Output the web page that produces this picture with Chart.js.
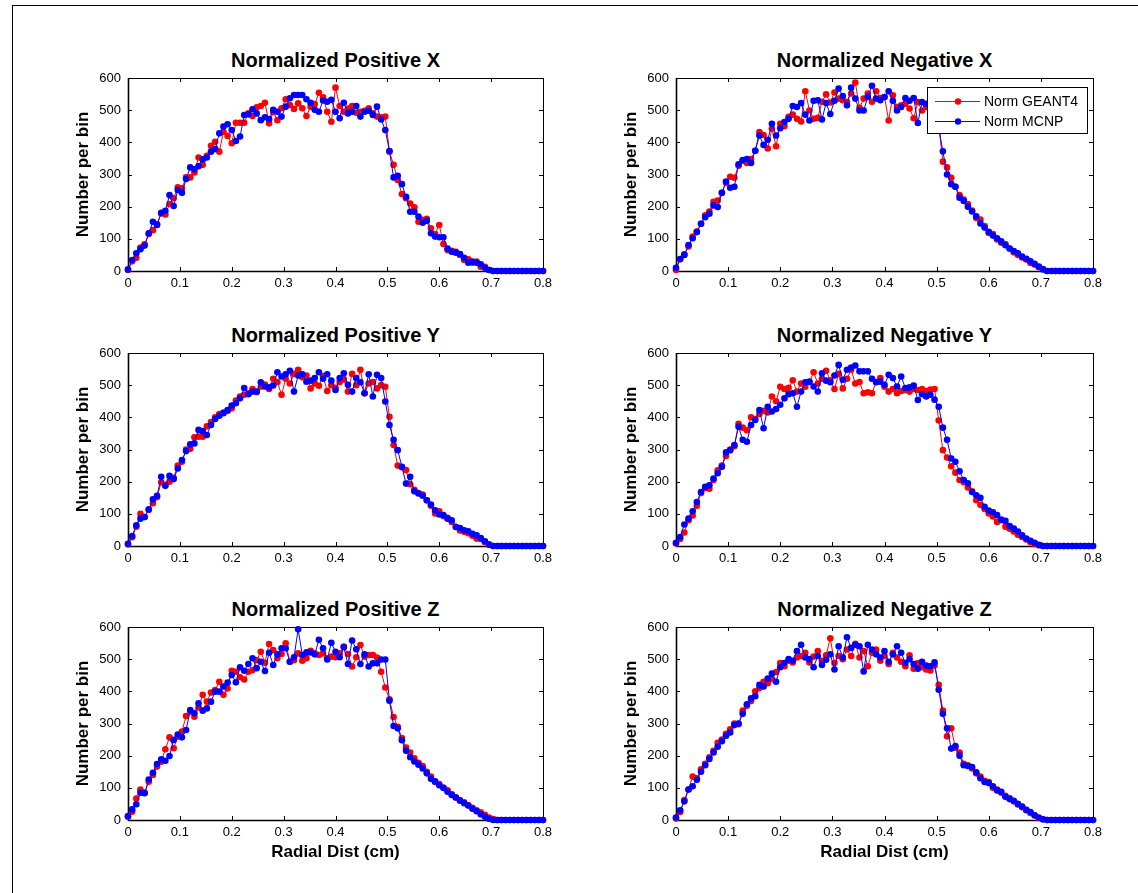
<!DOCTYPE html>
<html>
<head>
<meta charset="utf-8">
<title>Normalized radial distributions</title>
<script src="https://cdn.jsdelivr.net/npm/chart.js@4.4.1/dist/chart.umd.min.js"></script>
<style>
  html, body { margin: 0; padding: 0; background: #fff; }
  body { width: 1138px; height: 893px; position: relative; overflow: hidden; font-family: "Liberation Sans", Arial, sans-serif; }
  #frame { position: absolute; left: 12px; top: 5px; width: 1200px; height: 950px; border-left: 1px solid #000; border-top: 1px solid #000; }
  canvas { position: absolute; }
  .ttl { position: absolute; font-weight: bold; font-size: 20px; line-height: 20px; text-align: center; white-space: nowrap; color: #000; }
</style>
</head>
<body>
<div id="frame"></div>
<script>
// bin grid (cm) and tick labels
const BIN_WIDTH = 0.008;
const xTicks = [0, 0.1, 0.2, 0.3, 0.4, 0.5, 0.6, 0.7, 0.8];
const yTicks = [0, 100, 200, 300, 400, 500, 600];

// Positive X
const geantPosX = [
  3, 30, 41, 73, 83, 115, 127, 146, 179, 176,
  208, 226, 260, 257, 291, 291, 306, 353, 330, 358,
  389, 402, 371, 433, 420, 397, 461, 461, 461, 490,
  482, 509, 513, 523, 459, 494, 469, 506, 534, 516,
  504, 521, 506, 482, 511, 519, 554, 540, 495, 464,
  570, 513, 495, 505, 513, 492, 495, 498, 506, 490,
  480, 478, 480, 371, 330, 283, 239, 226, 210, 198,
  153, 159, 162, 133, 115, 143, 84, 65, 63, 60,
  50, 34, 36, 26, 29, 13, 13, 3, 0, 0,
  0, 0, 0, 0, 0, 0, 0, 0, 0, 0, 0
];
const mcnpPosX = [
  5, 34, 55, 68, 79, 117, 153, 143, 181, 187,
  236, 202, 252, 243, 286, 322, 316, 326, 347, 353,
  371, 379, 428, 449, 456, 438, 404, 418, 485, 487,
  503, 490, 469, 478, 472, 501, 495, 480, 511, 537,
  547, 547, 547, 534, 523, 501, 495, 530, 526, 532,
  495, 475, 523, 490, 495, 513, 480, 495, 498, 485,
  511, 471, 438, 373, 291, 296, 270, 231, 184, 184,
  169, 150, 156, 117, 107, 105, 105, 70, 60, 57,
  53, 41, 26, 29, 26, 21, 10, 3, 0, 0,
  0, 0, 0, 0, 0, 0, 0, 0, 0, 0, 0
];

// Negative X
const geantNegX = [
  3, 37, 52, 76, 107, 123, 147, 173, 185, 215,
  219, 243, 274, 293, 290, 327, 343, 336, 348, 374,
  432, 423, 381, 442, 388, 458, 450, 479, 486, 473,
  465, 559, 499, 473, 476, 526, 549, 524, 555, 536,
  531, 526, 552, 586, 507, 536, 552, 526, 559, 538,
  541, 468, 546, 510, 515, 520, 505, 475, 525, 499,
  510, 498, 505, 455, 340, 322, 290, 262, 236, 222,
  208, 188, 165, 160, 140, 118, 115, 98, 88, 84,
  70, 58, 50, 42, 36, 25, 20, 12, 6, 0,
  0, 0, 0, 0, 0, 0, 0, 0, 0, 0, 0
];
const mcnpNegX = [
  10, 37, 50, 81, 102, 121, 147, 167, 178, 204,
  199, 243, 278, 259, 262, 332, 345, 348, 336, 374,
  421, 392, 408, 458, 421, 444, 463, 473, 513, 510,
  522, 486, 468, 529, 531, 471, 522, 488, 529, 567,
  544, 515, 570, 536, 499, 499, 541, 576, 536, 531,
  541, 559, 529, 499, 510, 538, 529, 538, 460, 525,
  520, 505, 480, 445, 372, 300, 270, 262, 228, 218,
  200, 185, 170, 148, 135, 122, 110, 102, 92, 80,
  70, 62, 55, 45, 38, 30, 22, 14, 5, 0,
  0, 0, 0, 0, 0, 0, 0, 0, 0, 0, 0
];

// Positive Y
const geantPosY = [
  5, 27, 60, 100, 90, 112, 133, 152, 198, 190,
  200, 212, 250, 262, 300, 302, 338, 340, 340, 372,
  385, 400, 410, 415, 420, 428, 452, 465, 470, 475,
  488, 478, 495, 502, 488, 520, 510, 470, 520, 505,
  535, 548, 525, 530, 490, 505, 498, 528, 482, 500,
  492, 510, 518, 480, 535, 500, 548, 475, 505, 510,
  490, 500, 495, 402, 314, 250, 245, 236, 192, 175,
  165, 160, 142, 125, 101, 108, 93, 88, 75, 60,
  48, 44, 40, 32, 23, 22, 12, 5, 0, 0,
  0, 0, 0, 0, 0, 0, 0, 0, 0, 0, 0
];
const mcnpPosY = [
  7, 31, 64, 85, 90, 114, 145, 156, 215, 187,
  218, 208, 241, 267, 295, 316, 319, 361, 357, 345,
  376, 395, 405, 413, 423, 437, 444, 459, 491, 472,
  480, 480, 509, 496, 493, 499, 540, 527, 534, 545,
  480, 530, 534, 511, 514, 522, 540, 520, 534, 514,
  485, 522, 537, 501, 480, 522, 509, 475, 534, 465,
  532, 522, 449, 376, 330, 298, 246, 194, 215, 170,
  163, 156, 142, 129, 111, 98, 96, 85, 80, 59,
  56, 49, 46, 38, 33, 25, 15, 4, 0, 0,
  0, 0, 0, 0, 0, 0, 0, 0, 0, 0, 0
];

// Negative Y
const geantNegY = [
  8, 22, 42, 80, 95, 125, 165, 180, 178, 205,
  235, 250, 280, 300, 310, 380, 368, 360, 400, 395,
  410, 420, 415, 465, 450, 495, 488, 492, 515, 480,
  505, 495, 510, 540, 505, 520, 545, 515, 488, 535,
  490, 520, 548, 505, 510, 475, 478, 475, 510, 522,
  495, 480, 488, 475, 482, 485, 480, 488, 485, 488,
  482, 486, 488, 390, 298, 275, 248, 228, 205, 198,
  182, 170, 142, 128, 115, 101, 92, 75, 80, 60,
  54, 45, 35, 28, 20, 12, 6, 2, 0, 0,
  0, 0, 0, 0, 0, 0, 0, 0, 0, 0, 0
];
const mcnpNegY = [
  10, 28, 67, 85, 108, 137, 168, 184, 189, 210,
  226, 246, 291, 298, 314, 371, 330, 324, 376, 392,
  423, 366, 433, 418, 426, 439, 459, 472, 475, 433,
  480, 509, 511, 496, 480, 537, 514, 509, 530, 563,
  517, 548, 555, 561, 543, 543, 543, 520, 509, 511,
  501, 532, 522, 496, 527, 491, 493, 499, 454, 472,
  465, 470, 455, 433, 368, 330, 272, 262, 232, 205,
  195, 168, 158, 150, 122, 110, 105, 96, 82, 78,
  62, 54, 45, 33, 23, 16, 10, 4, 0, 0,
  0, 0, 0, 0, 0, 0, 0, 0, 0, 0, 0
];

// Positive Z
const geantPosZ = [
  10, 26, 67, 95, 85, 119, 140, 166, 181, 220,
  257, 223, 259, 275, 323, 337, 321, 350, 389, 368,
  396, 404, 430, 389, 409, 464, 461, 444, 437, 461,
  466, 497, 523, 489, 547, 528, 503, 516, 549, 492,
  497, 518, 495, 503, 526, 518, 513, 518, 503, 508,
  506, 518, 539, 516, 477, 506, 544, 508, 513, 513,
  505, 461, 412, 375, 320, 290, 255, 225, 210, 192,
  178, 168, 150, 135, 118, 112, 100, 92, 80, 70,
  62, 55, 46, 38, 30, 24, 16, 8, 3, 0,
  0, 0, 0, 0, 0, 0, 0, 0, 0, 0, 0
];
const mcnpPosZ = [
  12, 33, 49, 85, 83, 126, 147, 174, 189, 184,
  199, 249, 266, 257, 280, 342, 332, 363, 340, 347,
  368, 399, 399, 415, 427, 451, 428, 475, 464, 485,
  503, 472, 492, 463, 520, 482, 515, 534, 534, 492,
  506, 593, 513, 521, 521, 515, 560, 534, 499, 551,
  523, 506, 537, 485, 558, 531, 485, 515, 477, 487,
  487, 499, 499, 371, 292, 285, 248, 215, 195, 182,
  172, 160, 145, 128, 120, 108, 100, 88, 78, 70,
  60, 52, 45, 35, 27, 18, 10, 4, 0, 0,
  0, 0, 0, 0, 0, 0, 0, 0, 0, 0, 0
];

// Negative Z
const geantNegZ = [
  5, 25, 62, 95, 135, 130, 158, 175, 195, 215,
  240, 250, 268, 282, 300, 298, 340, 355, 370, 400,
  410, 430, 425, 438, 460, 488, 478, 495, 490, 505,
  510, 520, 490, 508, 525, 495, 512, 565, 488, 510,
  500, 530, 510, 548, 505, 525, 478, 520, 530, 495,
  510, 485, 520, 505, 492, 478, 512, 470, 488, 475,
  468, 465, 480, 420, 340, 260, 285, 225, 210, 175,
  170, 160, 145, 135, 122, 118, 100, 95, 85, 75,
  68, 58, 48, 40, 30, 22, 14, 6, 2, 0,
  0, 0, 0, 0, 0, 0, 0, 0, 0, 0, 0
];
const mcnpNegZ = [
  8, 30, 58, 95, 105, 125, 150, 170, 190, 210,
  228, 245, 262, 272, 295, 300, 330, 360, 378, 385,
  420, 415, 440, 455, 430, 475, 488, 500, 495, 525,
  545, 505, 500, 475, 510, 482, 498, 515, 468, 540,
  505, 568, 535, 545, 540, 462, 545, 530, 515, 505,
  525, 492, 515, 540, 520, 488, 500, 485, 470, 492,
  480, 478, 490, 405, 330, 285, 222, 230, 200, 170,
  168, 165, 148, 130, 118, 115, 105, 92, 88, 72,
  65, 60, 50, 42, 32, 25, 15, 8, 2, 0,
  0, 0, 0, 0, 0, 0, 0, 0, 0, 0, 0
];

const panels = [
  { title: 'Normalized Positive X', geant: geantPosX, mcnp: mcnpPosX, col: 0, row: 0 },
  { title: 'Normalized Negative X', geant: geantNegX, mcnp: mcnpNegX, col: 1, row: 0, legend: true },
  { title: 'Normalized Positive Y', geant: geantPosY, mcnp: mcnpPosY, col: 0, row: 1 },
  { title: 'Normalized Negative Y', geant: geantNegY, mcnp: mcnpNegY, col: 1, row: 1 },
  { title: 'Normalized Positive Z', geant: geantPosZ, mcnp: mcnpPosZ, col: 0, row: 2 },
  { title: 'Normalized Negative Z', geant: geantNegZ, mcnp: mcnpNegZ, col: 1, row: 2 }
];

// plot-box placement on the page
const colLeft = [128, 676], colRight = [543, 1093];
const rowTop = [78, 353, 627], rowBottom = [271, 546, 820];
const Y_AXIS_W = 60, PAD_TOP = 10, PAD_RIGHT = 15;

const FAMILY = '"Liberation Sans", Arial, Helvetica, sans-serif';
const tickFont = { family: FAMILY, size: 13 };
const labelFont = { family: FAMILY, size: 17, weight: 'bold' };

// matlab style box with inward ticks on all four sides
const matlabBox = {
  id: 'matlabBox',
  beforeDatasetsDraw(chart) {
    const { ctx, chartArea: a, scales } = chart;
    ctx.save();
    ctx.strokeStyle = '#000';
    ctx.lineWidth = 1;
    ctx.beginPath();
    xTicks.forEach(v => {
      const px = Math.round(scales.x.getPixelForValue(v)) + 0.5;
      ctx.moveTo(px, a.bottom); ctx.lineTo(px, a.bottom - 4);
      ctx.moveTo(px, a.top); ctx.lineTo(px, a.top + 4);
    });
    yTicks.forEach(v => {
      const py = Math.round(scales.y.getPixelForValue(v)) + 0.5;
      ctx.moveTo(a.left, py); ctx.lineTo(a.left + 4, py);
      ctx.moveTo(a.right, py); ctx.lineTo(a.right - 4, py);
    });
    ctx.stroke();
    ctx.strokeRect(a.left + 0.5, a.top + 0.5, a.right - a.left, a.bottom - a.top);
    // left and bottom axis lines a little heavier
    ctx.lineWidth = 1.6;
    ctx.beginPath();
    ctx.moveTo(a.left + 0.5, a.top);
    ctx.lineTo(a.left + 0.5, a.bottom + 0.5);
    ctx.lineTo(a.right + 0.5, a.bottom + 0.5);
    ctx.stroke();
    ctx.restore();
  }
};

// legend box in the upper right corner of the axes
const cornerLegend = {
  id: 'cornerLegend',
  afterDraw(chart, args, opts) {
    if (!opts.show) return;
    const { ctx, chartArea: a } = chart;
    const w = 160, h = 46;
    const x0 = Math.round(a.right - 6 - w), y0 = Math.round(a.top + 9);
    ctx.save();
    ctx.fillStyle = '#fff';
    ctx.fillRect(x0, y0, w, h);
    ctx.strokeStyle = '#000';
    ctx.lineWidth = 1;
    ctx.strokeRect(x0 + 0.5, y0 + 0.5, w, h);
    chart.data.datasets.forEach((ds, i) => {
      const y = y0 + 14.5 + i * 20;
      ctx.strokeStyle = ds.borderColor;
      ctx.beginPath();
      ctx.moveTo(x0 + 8, y);
      ctx.lineTo(x0 + 53, y);
      ctx.stroke();
      ctx.fillStyle = ds.borderColor;
      ctx.beginPath();
      ctx.arc(x0 + 31, y, 3.2, 0, Math.PI * 2);
      ctx.fill();
      ctx.fillStyle = '#000';
      ctx.font = '14px ' + FAMILY;
      ctx.textBaseline = 'middle';
      ctx.fillText(ds.label, x0 + 57, y + 1);
    });
    ctx.restore();
  }
};

const toPoints = arr => arr.map((y, i) => ({ x: +(i * BIN_WIDTH).toFixed(3), y }));

panels.forEach(p => {
  const L = colLeft[p.col], R = colRight[p.col];
  const T = rowTop[p.row], B = rowBottom[p.row];
  const xh = p.row === 2 ? 46 : 24;

  const title = document.createElement('div');
  title.className = 'ttl';
  title.textContent = p.title;
  title.style.left = L + 'px';
  title.style.width = (R - L) + 'px';
  title.style.top = (T - 18 - 10) + 'px';
  document.body.appendChild(title);

  const canvas = document.createElement('canvas');
  const w = Y_AXIS_W + (R - L) + PAD_RIGHT;
  const h = PAD_TOP + (B - T) + xh;
  canvas.width = w; canvas.height = h;
  canvas.style.left = (L - Y_AXIS_W) + 'px';
  canvas.style.top = (T - PAD_TOP) + 'px';
  canvas.style.width = w + 'px';
  canvas.style.height = h + 'px';
  document.body.appendChild(canvas);

  new Chart(canvas, {
    type: 'line',
    data: {
      datasets: [
        { label: 'Norm GEANT4', data: toPoints(p.geant), borderColor: '#ff0000', backgroundColor: '#ff0000', order: 1, clip: false },
        { label: 'Norm MCNP', data: toPoints(p.mcnp), borderColor: '#0000ff', backgroundColor: '#0000ff', order: 0, clip: false }
      ]
    },
    options: {
      responsive: false,
      animation: false,
      devicePixelRatio: 1,
      layout: { padding: { top: PAD_TOP, right: PAD_RIGHT, left: 0, bottom: 0 } },
      elements: {
        line: { borderWidth: 1, tension: 0 },
        point: { radius: 3.3, borderWidth: 0, hoverRadius: 3.3 }
      },
      plugins: {
        legend: { display: false },
        tooltip: { enabled: false },
        cornerLegend: { show: !!p.legend }
      },
      scales: {
        x: {
          type: 'linear', min: 0, max: 0.8,
          grid: { display: false, drawTicks: false },
          border: { display: false },
          ticks: { padding: 5, font: tickFont, color: '#000', autoSkip: false, maxRotation: 0, callback: v => String(v) },
          afterBuildTicks: s => { s.ticks = xTicks.map(v => ({ value: v })); },
          afterFit: s => { s.height = xh; s.paddingLeft = 0; s.paddingRight = 0; },
          title: { display: p.row === 2, text: 'Radial Dist (cm)', font: labelFont, color: '#000', padding: { top: 0, bottom: 3 } }
        },
        y: {
          min: 0, max: 600,
          grid: { display: false, drawTicks: false },
          border: { display: false },
          ticks: { padding: 7, font: tickFont, color: '#000', autoSkip: false, callback: v => String(v) },
          afterBuildTicks: s => { s.ticks = yTicks.map(v => ({ value: v })); },
          afterFit: s => { s.width = Y_AXIS_W; s.paddingTop = 0; s.paddingBottom = 0; },
          title: { display: true, text: 'Number per bin', font: labelFont, color: '#000', padding: { top: 5, bottom: 0 } }
        }
      }
    },
    plugins: [matlabBox, cornerLegend]
  });
});
</script>
</body>
</html>
